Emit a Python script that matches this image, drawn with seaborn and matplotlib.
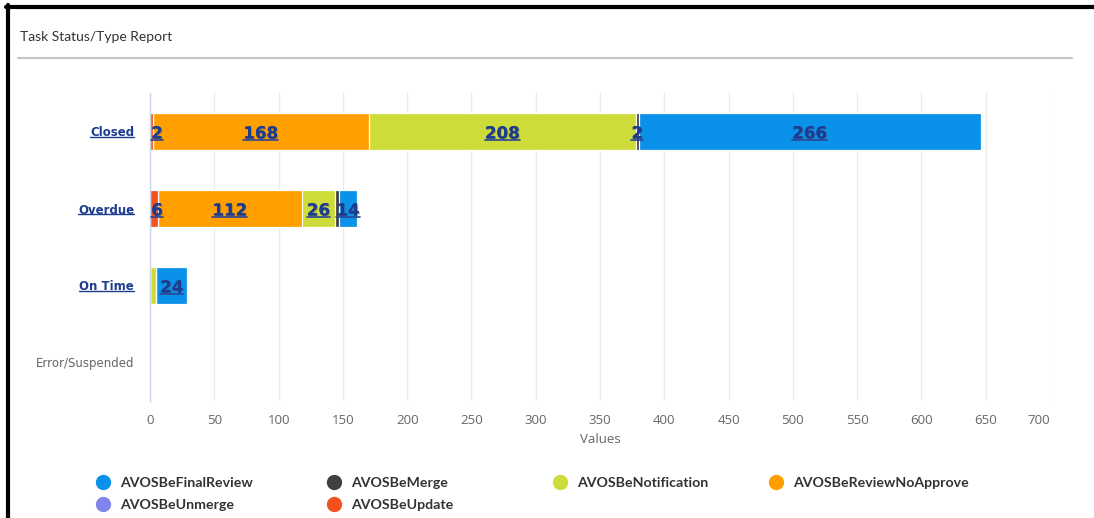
import matplotlib
matplotlib.use("Agg")
import matplotlib.pyplot as plt
import matplotlib.patheffects as pe
from matplotlib.lines import Line2D
import seaborn as sns
import pandas as pd
import numpy as np

# ---------------- data ----------------
categories = ["Closed", "Overdue", "On Time", "Error/Suspended"]
series_names = ["AVOSBeFinalReview", "AVOSBeMerge", "AVOSBeNotification",
                "AVOSBeReviewNoApprove", "AVOSBeUnmerge", "AVOSBeUpdate"]
final_review = [266, 14, 24, 0]
merge = [2, 3, 0, 0]
notification = [208, 26, 5, 0]
review_no_approve = [168, 112, 0, 0]
unmerge = [0, 0, 0, 0]
update = [2, 6, 0, 0]
x_ticks = list(range(0, 701, 50))
title = "Task Status/Type Report"
x_label = "Values"
hidden_labels = [("Overdue", "AVOSBeMerge"), ("On Time", "AVOSBeNotification")]

values = {
    "AVOSBeFinalReview": final_review,
    "AVOSBeMerge": merge,
    "AVOSBeNotification": notification,
    "AVOSBeReviewNoApprove": review_no_approve,
    "AVOSBeUnmerge": unmerge,
    "AVOSBeUpdate": update,
}
colors = {
    "AVOSBeFinalReview": "#0a91e9",
    "AVOSBeMerge": "#3f3f44",
    "AVOSBeNotification": "#cddc39",
    "AVOSBeReviewNoApprove": "#ffa000",
    "AVOSBeUnmerge": "#8085e9",
    "AVOSBeUpdate": "#f4511e",
}
# left -> right stacking order (highcharts stacks the first series at the far end)
stack_order = list(reversed(series_names))

# ---------------- figure ----------------
sns.set_theme(style="white")
plt.rcParams["font.family"] = ["Lato", "DejaVu Sans"]

W, H = 1094, 518
fig = plt.figure(figsize=(W / 100, H / 100), dpi=100)
ax = fig.add_axes([150 / W, 1 - 401 / H, 900 / W, 308 / H])

df = pd.DataFrame(values, index=categories)
cum = df[stack_order].cumsum(axis=1)
starts = cum - df[stack_order]

# draw cumulative bars, widest first so earlier segments overlay
for name in reversed(stack_order):
    d = pd.DataFrame({"category": categories, "value": cum[name].values})
    sns.barplot(data=d, x="value", y="category", order=categories, orient="h",
                color=colors[name], saturation=1, width=0.49,
                edgecolor="white", linewidth=0.9, ax=ax, zorder=2)

ax.set_xlim(0, 700)
ax.set_ylim(len(categories) - 0.5, -0.5)
ax.set_xticks(x_ticks)
ax.set_xticklabels([str(t) for t in x_ticks])
ax.xaxis.grid(True, color="#ebebeb", lw=1)
ax.yaxis.grid(False)
ax.set_axisbelow(True)
for s in ["top", "right", "bottom"]:
    ax.spines[s].set_visible(False)
ax.spines["left"].set_color("#ccd6eb")
ax.spines["left"].set_linewidth(1)

ax.tick_params(axis="x", length=0, pad=9, labelsize=9.5, labelcolor="#666666")
ax.tick_params(axis="y", length=0, pad=11.5)
for lbl in ax.get_xticklabels():
    lbl.set_family(["Open Sans", "DejaVu Sans"])
ax.get_xticklabels()[-1].set_ha("right")
ax.set_xlabel(x_label, fontsize=9.5, color="#666666", labelpad=5,
              family=["Open Sans", "DejaVu Sans"])
ax.set_ylabel("")

navy = "#1d3b8f"
underline_texts = []
totals = df.sum(axis=1)
for lbl in ax.get_yticklabels():
    cat = lbl.get_text()
    lbl.set_family(["DejaVu Sans"])
    if totals[cat] > 0:
        lbl.set_fontweight("bold")
        lbl.set_color(navy)
        lbl.set_fontsize(8.5)
        underline_texts.append((lbl, navy, 1.0))
    else:
        lbl.set_color("#666666")
        lbl.set_fontsize(8.5)

# data labels
shadow = [pe.withSimplePatchShadow(offset=(0.8, -0.8), shadow_rgbFace="#555555", alpha=0.35),
          pe.Normal()]
for yi, cat in enumerate(categories):
    for name in stack_order:
        v = df.loc[cat, name]
        if v <= 0 or (cat, name) in hidden_labels:
            continue
        cx = starts.loc[cat, name] + v / 2
        cx = max(cx, 5.5)
        t = ax.text(cx, yi, str(v), ha="center", va="center_baseline",
                    fontsize=12, fontweight="bold", color=navy,
                    family=["DejaVu Sans"], path_effects=shadow, zorder=5)
        underline_texts.append((t, "#2a4595", 1.2))

# title, rule and frame
fig.text(20 / W, 1 - 37 / H, title, fontsize=10, color="#333333", va="center", ha="left")
fig.add_artist(Line2D([18 / W, 1072 / W], [1 - 57.5 / H] * 2, transform=fig.transFigure,
                      color="#c4c4c4", lw=1.5))
fig.add_artist(Line2D([8 / W, 8 / W], [0, 1 - 5 / H], transform=fig.transFigure,
                      color="black", lw=3))
fig.add_artist(Line2D([6 / W, 1], [1 - 7 / H] * 2, transform=fig.transFigure,
                      color="black", lw=3))

# legend: rows of 4 columns, highcharts style
legend_cols = [["AVOSBeFinalReview", "AVOSBeUnmerge"],
               ["AVOSBeMerge", "AVOSBeUpdate"],
               ["AVOSBeNotification"],
               ["AVOSBeReviewNoApprove"]]
col_x = [96, 327, 553, 769]
for names, x0 in zip(legend_cols, col_x):
    handles = [Line2D([], [], marker="o", ls="", color=colors[n], markersize=10) for n in names]
    fig.legend(handles, names, loc="upper left", bbox_to_anchor=(x0 / W, 1 - 477 / H),
               frameon=False, borderpad=0, borderaxespad=0, handlelength=0.95,
               handletextpad=0.75, labelspacing=0.72,
               prop={"family": "Lato", "weight": "bold", "size": 10.2},
               labelcolor="#333333")

# underlines
fig.canvas.draw()
renderer = fig.canvas.get_renderer()
for t, c, lw in underline_texts:
    bb = t.get_window_extent(renderer)
    y = bb.y0 + 0.16 * bb.height
    fig.add_artist(Line2D([bb.x0 / W, bb.x1 / W], [y / H] * 2, transform=fig.transFigure,
                          color=c, lw=lw, zorder=6))

fig.savefig("out.png", dpi=100)
